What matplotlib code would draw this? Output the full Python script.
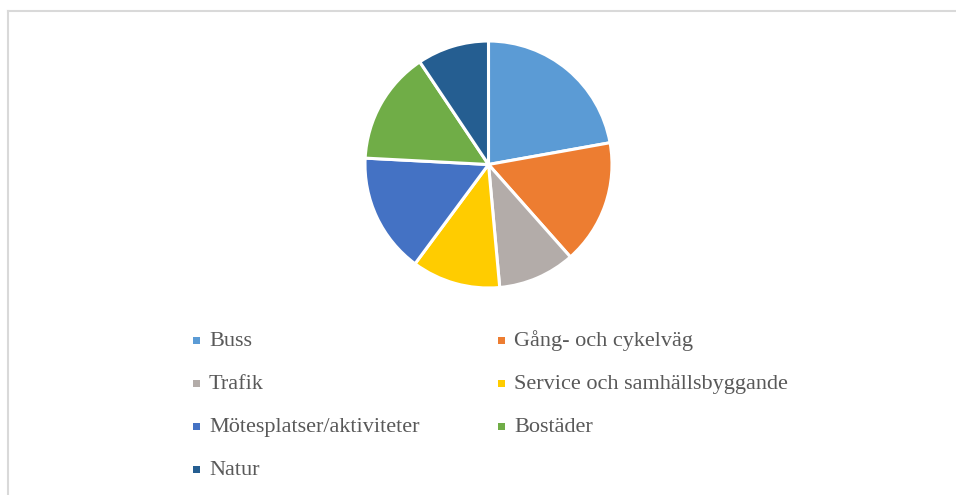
import matplotlib
matplotlib.use("Agg")
import matplotlib.pyplot as plt
from matplotlib.patches import Rectangle
from matplotlib.lines import Line2D

# -------------------------------------------------
# Data
# -------------------------------------------------
labels = [
    "Buss",
    "Gång- och cykelväg",
    "Trafik",
    "Service och samhällsbyggande",
    "Mötesplatser/aktiviteter",
    "Bostäder",
    "Natur",
]
values = [22.2, 16.3, 10.1, 11.6, 15.7, 14.8, 9.4]
colors = ["#5B9BD5", "#ED7D31", "#B3ACA9", "#FFCC00", "#4472C4", "#70AD47", "#255E91"]

W, H = 956, 495
plt.rcParams["font.family"] = ["Liberation Serif", "DejaVu Serif"]

fig = plt.figure(figsize=(W / 100, H / 100), dpi=100)

# -------------------------------------------------
# Pie
# -------------------------------------------------
cx, cy, r = 488.5, 164.5, 123.5
ax = fig.add_axes([(cx - r) / W, 1 - (cy + r) / H, 2 * r / W, 2 * r / H])
ax.pie(values, colors=colors, startangle=90, counterclock=False,
       wedgeprops=dict(edgecolor="white", linewidth=2.2))
ax.set_xlim(-1, 1)
ax.set_ylim(-1, 1)
ax.set_aspect("equal")
ax.axis("off")

# -------------------------------------------------
# Chart frame (only top and left edge visible)
# -------------------------------------------------
fig.add_artist(Line2D([8 / W, 1], [1 - 11 / H, 1 - 11 / H], color="#D9D9D9", lw=1.5))
fig.add_artist(Line2D([8 / W, 8 / W], [0, 1 - 11 / H], color="#D9D9D9", lw=1.5))

# -------------------------------------------------
# Legend (row-major, two columns)
# -------------------------------------------------
col_x = [196, 501]
row_y0, row_dy = 340, 43
sq = 7
for i, (lab, col) in enumerate(zip(labels, colors)):
    x = col_x[i % 2]
    y = row_y0 + row_dy * (i // 2)
    fig.add_artist(Rectangle(((x - sq / 2) / W, 1 - (y + sq / 2) / H), sq / W, sq / H,
                             facecolor=col, edgecolor="none"))
    fig.text((x + 13) / W, 1 - (y + 6) / H, lab, fontsize=16, color="#595959",
             ha="left", va="baseline")

fig.savefig("out.png", dpi=100, facecolor="white")
